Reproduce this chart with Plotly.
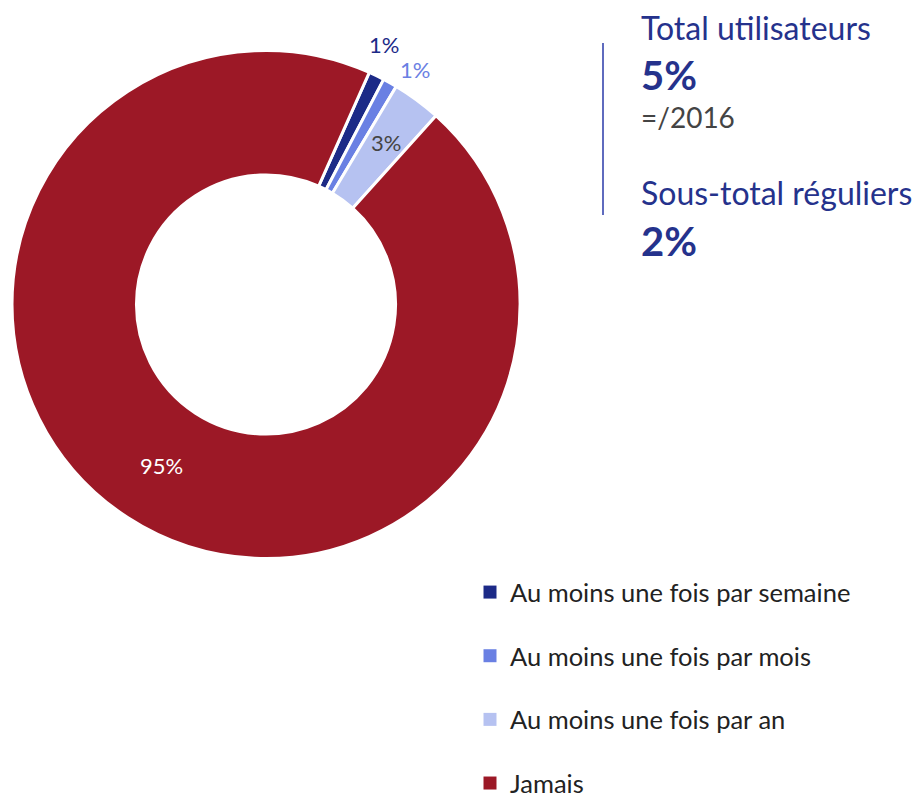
import math
import plotly.graph_objects as go

# Fréquence d'usage
labels = ["Au moins une fois par semaine", "Au moins une fois par mois",
          "Au moins une fois par an", "Jamais"]
values = [1.0, 0.9, 3.1, 95.0]
text_labels = ["1%", "1%", "3%", "95%"]
colors = ["#1c2a87", "#6a80e3", "#b6c2f1", "#9c1826"]
text_colors = ["#1c2a87", "#6a80e3", "#444444", "#ffffff"]
text_pos = ["none", "none", "none", "inside"]

summary_titles = ["Total utilisateurs", "Sous-total réguliers"]
summary_values = ["5%", "2%"]
summary_note = "=/2016"

FONT = "Lato, 'Noto Sans', sans-serif"
BLUE = "#25328c"
W, H = 913, 789  # page has an 8px body margin


def px(x):
    return (x - 8) / W


def py(y):
    return 1 - (y - 8) / H


ROT = 24
fig = go.Figure()
fig.add_trace(go.Pie(
    labels=labels, values=values, text=text_labels,
    textinfo="text", textposition=text_pos,
    textfont=dict(color=text_colors, size=22, family=FONT),
    insidetextorientation="horizontal",
    marker=dict(colors=colors, line=dict(color="white", width=3)),
    hole=0.51, sort=False, direction="clockwise", rotation=ROT,
    showlegend=False,
    domain=dict(x=[px(12), px(520)], y=[py(559), py(50)]),
))

# labels of the three small slices (two just outside the ring, one inside)
cx, cy, r_out = 266, 305, 254
total = sum(values)
start = ROT
label_r = [r_out + 18, r_out + 16, 202]
anchors = [("center", "bottom"), ("left", "middle"), ("center", "middle")]
for i in range(3):
    mid = math.radians(start + values[i] / total * 360 / 2)
    start += values[i] / total * 360
    x = cx + label_r[i] * math.sin(mid)
    y = cy - label_r[i] * math.cos(mid)
    fig.add_annotation(x=px(x), y=py(y), xref="paper", yref="paper",
                       text=text_labels[i], showarrow=False,
                       xanchor=anchors[i][0], yanchor=anchors[i][1],
                       font=dict(size=22, color=text_colors[i], family=FONT))

# legend entries, one group each so the gap can be set
for lab, col in zip(labels, colors):
    fig.add_trace(go.Scatter(
        x=[None], y=[None], mode="markers", name=lab, legendgroup=lab,
        marker=dict(symbol="square", size=13, color=col),
    ))

fig.add_shape(type="line", xref="paper", yref="paper",
              x0=px(603), x1=px(603), y0=py(43), y1=py(215),
              line=dict(color="#2a3aa8", width=1.5))

ys = [27, 193]
for t, v, y in zip(summary_titles, summary_values, ys):
    fig.add_annotation(x=px(639), y=py(y), xref="paper", yref="paper",
                       text=t, showarrow=False, xanchor="left", yanchor="middle",
                       font=dict(size=32, color=BLUE, family=FONT))
    fig.add_annotation(x=px(639), y=py(y + 48), xref="paper", yref="paper",
                       text="<b>" + v + "</b>", showarrow=False, xanchor="left", yanchor="middle",
                       font=dict(size=40, color=BLUE, family=FONT))
fig.add_annotation(x=px(639), y=py(117), xref="paper", yref="paper",
                   text=summary_note, showarrow=False, xanchor="left", yanchor="middle",
                   font=dict(size=28, color="#444444", family=FONT))

fig.update_layout(
    width=W, height=H,
    margin=dict(l=0, r=0, t=0, b=0, autoexpand=False),
    paper_bgcolor="white", plot_bgcolor="white",
    xaxis=dict(visible=False), yaxis=dict(visible=False),
    legend=dict(x=px(470), y=py(569), xanchor="left", yanchor="top",
                font=dict(size=25.5, color="#222222", family=FONT),
                tracegroupgap=27.5, itemwidth=30),
)
fig.write_html("out.html")
